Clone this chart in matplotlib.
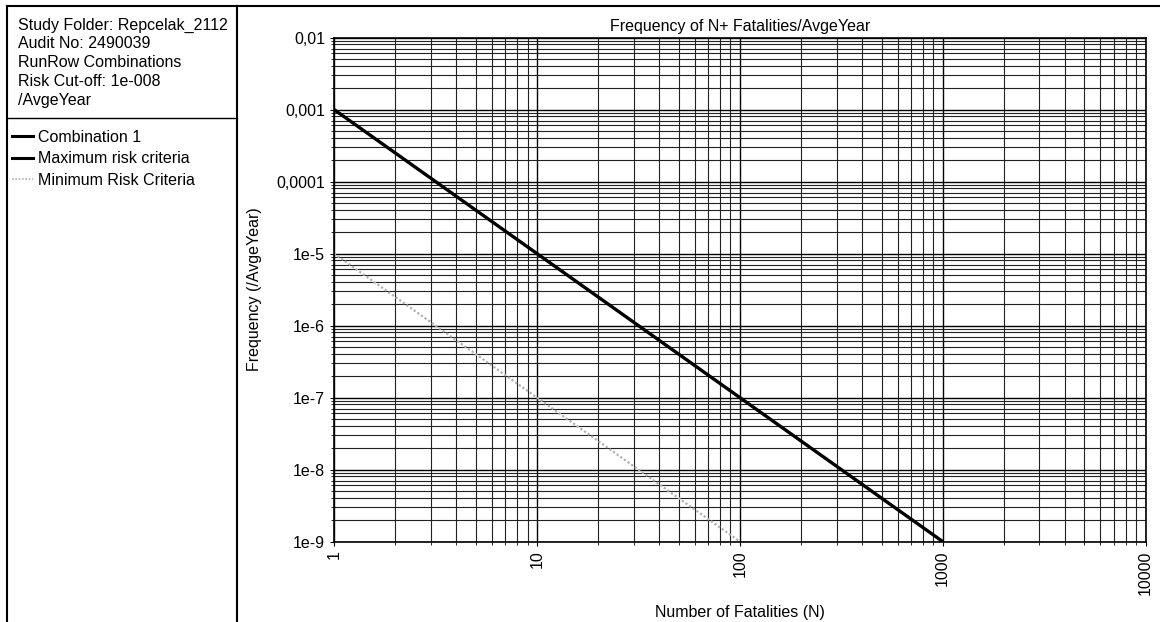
import numpy as np
import matplotlib.pyplot as plt
from matplotlib.lines import Line2D
from matplotlib.ticker import LogLocator, FixedLocator, FixedFormatter, NullFormatter

plt.rcParams['font.family'] = ['Liberation Sans', 'DejaVu Sans']

# criteria lines (N, frequency)
max_n = [1, 1000]
max_f = [1e-3, 1e-9]
min_n = [1, 100]
min_f = [1e-5, 1e-9]
combo_n = []
combo_f = []

y_ticks = [1e-9, 1e-8, 1e-7, 1e-6, 1e-5, 1e-4, 1e-3, 1e-2]
y_labels = ['1e-9', '1e-8', '1e-7', '1e-6', '1e-5', '0,0001', '0,001', '0,01']
x_ticks = [1, 10, 100, 1000, 10000]
x_labels = ['1', '10', '100', '1000', '10000']

info_lines = ['Study Folder: Repcelak_2112', 'Audit No: 2490039',
              'RunRow Combinations', 'Risk Cut-off: 1e-008', '/AvgeYear']

FS = 11.5
W, H = 1160, 622
fig = plt.figure(figsize=(W / 100, H / 100), dpi=100)

def fx(px):
    return px / W

def fy(py):
    return 1 - py / H

ax = fig.add_axes([fx(334), fy(541.5), fx(1145.5) - fx(334), fy(37.5) - fy(541.5)])

ax.plot(combo_n, combo_f, color='black', lw=2.2, label='Combination 1')
ax.plot(max_n, max_f, color='black', lw=2.4, label='Maximum risk criteria', solid_capstyle='butt')
ax.plot(min_n, min_f, color='#b0b0b0', lw=1.6, ls=(0, (1, 1)), label='Minimum Risk Criteria')

ax.set_xscale('log')
ax.set_yscale('log')
ax.set_xlim(1, 10000)
ax.set_ylim(1e-9, 1e-2)

ax.xaxis.set_major_locator(FixedLocator(x_ticks))
ax.xaxis.set_major_formatter(FixedFormatter(x_labels))
ax.xaxis.set_minor_locator(LogLocator(base=10, subs=np.arange(2, 10)))
ax.xaxis.set_minor_formatter(NullFormatter())
ax.yaxis.set_major_locator(FixedLocator(y_ticks))
ax.yaxis.set_major_formatter(FixedFormatter(y_labels))
ax.yaxis.set_minor_locator(LogLocator(base=10, subs=np.arange(2, 10)))
ax.yaxis.set_minor_formatter(NullFormatter())

ax.grid(True, which='major', color='black', lw=1.0)
ax.grid(True, which='minor', color='#222222', lw=0.8)
ax.set_axisbelow(True)
ax.tick_params(axis='both', which='major', direction='out', length=3, labelsize=FS, color='black')
ax.tick_params(axis='both', which='minor', direction='out', length=2, color='black')
for lab in ax.get_xticklabels():
    lab.set_rotation(90)
for sp in ax.spines.values():
    sp.set_linewidth(1.2)

ax.set_title('Frequency of N+ Fatalities/AvgeYear', fontsize=FS, pad=5)
ax.set_xlabel('Number of Fatalities (N)', fontsize=FS, labelpad=7)
ax.set_ylabel('Frequency (/AvgeYear)', fontsize=FS, labelpad=10)

# left side panel frame
frame_kw = dict(color='black', lw=1.5, transform=fig.transFigure)
fig.add_artist(Line2D([fx(7), fx(1160)], [fy(6), fy(6)], **frame_kw))
fig.add_artist(Line2D([fx(7), fx(7)], [fy(6), fy(622)], **frame_kw))
fig.add_artist(Line2D([fx(237), fx(237)], [fy(6), fy(622)], **frame_kw))
fig.add_artist(Line2D([fx(7), fx(237)], [fy(118), fy(118)], color='black', lw=1.0,
                      transform=fig.transFigure))

for i, line in enumerate(info_lines):
    fig.text(fx(18), fy(25 + 18.8 * i), line, fontsize=FS, va='center', ha='left')

handles = [Line2D([], [], color='black', lw=2.2),
           Line2D([], [], color='black', lw=2.2),
           Line2D([], [], color='#b0b0b0', lw=1.2, ls=(0, (1, 1)))]
labels = ['Combination 1', 'Maximum risk criteria', 'Minimum Risk Criteria']
fig.legend(handles, labels, loc='upper left', bbox_to_anchor=(fx(12), fy(130)),
           frameon=False, fontsize=FS, handlelength=1.3, handletextpad=0.3,
           labelspacing=0.4, borderaxespad=0, borderpad=0)

fig.savefig('out.png', dpi=100)
